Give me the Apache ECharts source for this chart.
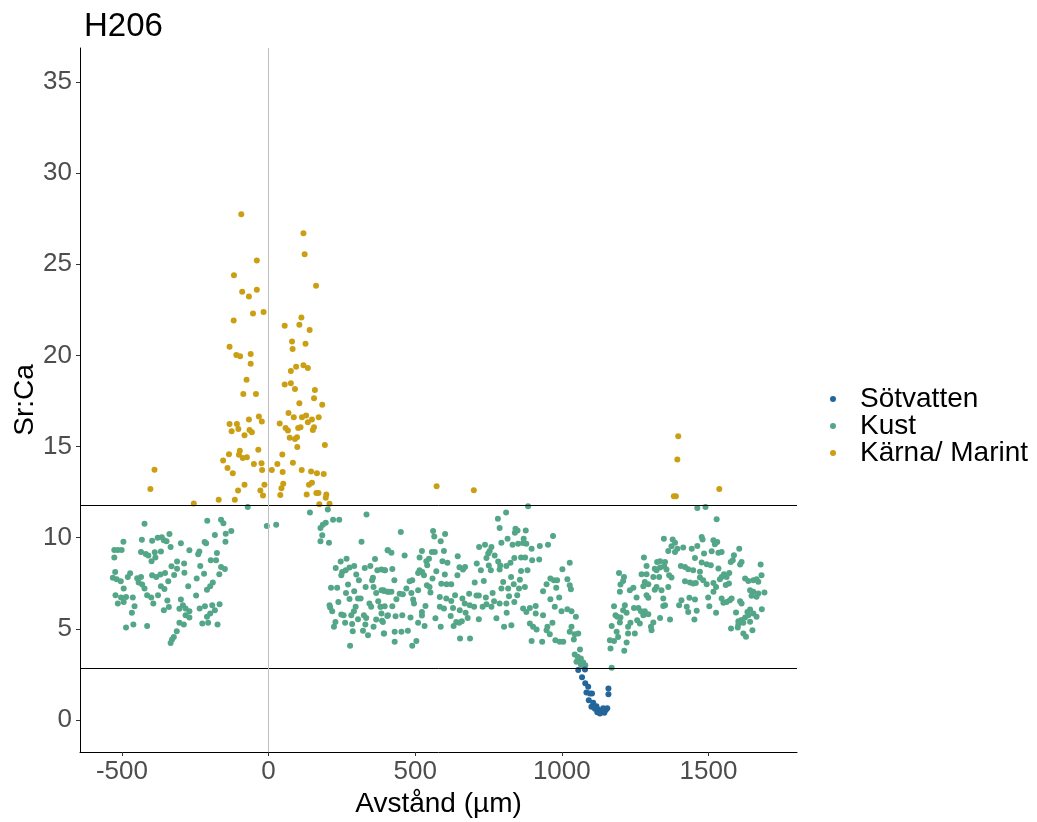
<!DOCTYPE html>
<html>
<head>
<meta charset="utf-8">
<title>H206</title>
<script src="https://cdn.jsdelivr.net/npm/echarts@6/dist/echarts.min.js"></script>
<style>
  html, body { margin: 0; padding: 0; background: #ffffff; }
  #chart { width: 1037px; height: 822px; }
</style>
</head>
<body>
<div id="chart"></div>
<script>
// Sr:Ca along the otolith transect, distance in µm, grouped by environment
const seriesNames = ['Sötvatten', 'Kust', 'Kärna/ Marint'];
const xTicks = [-500, 0, 500, 1000, 1500];
const yTicks = [0, 5, 10, 15, 20, 25, 30, 35];
const thresholds = [11.77, 2.85];

const sotvatten = [
  [1056,2.74],[1079,2.77],[1069,2.34],[1080,2.01],[1090,1.82],[1084,1.51],[1096,1.46],[1103,1.46],
  [1092,1.09],[1107,0.95],[1101,0.73],[1113,0.62],[1118,0.75],[1124,0.58],[1135,0.46],[1150,0.55],
  [1121,0.42],[1141,0.64],[1130,0.36],[1145,0.40],[1159,1.73],[1159,1.41],[1155,0.64]
];

const kust = [
  [-423,10.77],[-209,10.93],[-162,10.99],[-154,10.80],[-338,10.20],[-127,10.37],[-146,10.22],[-183,10.15],
  [-364,10.02],[-378,10.00],[-397,9.84],[-432,9.89],[-495,9.78],[-357,9.86],[-348,9.80],[-299,9.69],
  [-218,9.76],[-213,9.69],[-147,9.78],[-334,9.49],[-526,9.33],[-514,9.33],[-501,9.33],[-435,9.22],
  [-419,9.11],[-410,9.03],[-388,9.20],[-367,9.25],[-270,9.31],[-236,9.25],[-240,9.09],[-176,9.16],
  [-526,8.91],[-399,8.71],[-386,8.91],[-312,8.69],[-288,8.58],[-331,8.43],[-312,8.30],[-233,8.45],
  [-197,8.76],[-179,8.76],[-162,8.39],[-149,8.29],[-523,8.12],[-472,8.05],[-435,7.85],[-397,7.94],
  [-383,7.85],[-369,7.98],[-353,8.07],[-322,7.96],[-287,8.08],[-220,8.03],[-168,7.99],[-531,7.81],
  [-518,7.72],[-504,7.61],[-480,7.85],[-448,7.77],[-443,7.54],[-431,7.43],[-423,7.21],[-342,7.61],
  [-245,7.76],[-190,7.54],[-199,7.34],[-210,7.14],[-494,7.21],[-367,7.34],[-355,7.19],[-274,7.34],
  [-522,6.84],[-503,6.72],[-486,6.75],[-463,6.72],[-414,6.84],[-400,6.72],[-377,6.84],[-247,6.83],
  [-514,6.39],[-494,6.48],[-457,6.24],[-393,6.39],[-345,6.55],[-299,6.61],[-292,6.30],[-340,6.20],
  [-357,6.02],[-304,6.10],[-283,6.12],[-270,5.97],[-283,5.75],[-235,6.12],[-217,6.24],[-192,6.30],
  [-167,6.35],[-183,6.02],[-199,5.84],[-210,5.66],[-466,5.88],[-270,5.62],[-304,5.33],[-289,5.24],
  [-226,5.29],[-206,5.33],[-174,5.24],[-461,5.24],[-486,5.07],[-414,5.16],[-313,4.87],[-323,4.56],
  [-329,4.42],[-334,4.23],
  [-71,11.68],[-6,10.64],[26,10.71],[141,11.39],[202,11.55],[334,11.28],[220,10.99],[241,10.99],
  [195,10.82],[185,10.71],[177,10.53],[183,10.13],[177,9.80],[206,9.73],[317,9.78],[406,9.31],
  [246,8.69],[266,8.85],[229,8.34],[251,8.12],[248,7.94],[263,8.21],[276,8.36],[292,8.45],
  [328,8.34],[347,8.45],[363,8.83],[371,8.21],[397,8.21],[299,7.98],[308,7.67],[356,7.81],
  [353,7.67],[213,7.25],[234,7.25],[271,7.43],[292,7.06],[264,6.97],[331,7.30],[358,7.30],
  [367,6.97],[276,6.64],[305,6.66],[314,6.66],[392,7.12],[405,7.03],[238,6.48],[208,6.30],
  [210,6.17],[217,5.97],[297,6.21],[291,5.97],[344,6.39],[350,6.21],[374,6.52],[382,6.21],
  [248,5.79],[256,5.75],[282,5.75],[325,5.75],[333,5.60],[305,5.53],[228,5.38],[261,5.33],
  [285,5.26],[330,5.24],[367,5.51],[405,5.71],[387,5.44],[223,5.11],[322,4.89],[339,4.65],
  [358,5.11],[393,4.75],[287,4.87],[278,4.07],
  [885,11.73],[810,11.39],[782,11.04],[788,10.53],[842,10.49],[849,10.40],[877,10.40],[840,10.27],
  [451,10.31],[561,10.37],[565,10.07],[602,10.20],[587,9.80],[815,9.95],[794,9.73],[832,9.62],
  [851,9.67],[868,9.71],[879,9.67],[870,9.95],[738,9.62],[718,9.49],[760,9.49],[754,9.27],
  [407,9.31],[419,9.18],[464,9.03],[523,9.27],[557,9.22],[567,9.22],[598,9.27],[515,8.91],
  [547,8.85],[593,8.71],[610,8.63],[645,8.98],[749,9.13],[743,8.89],[771,9.03],[838,8.89],
  [861,8.91],[875,8.91],[825,8.63],[811,8.45],[790,8.47],[783,8.69],[710,8.58],[751,8.47],
  [758,8.21],[724,8.21],[788,8.25],[651,8.38],[670,8.39],[663,8.25],[538,8.71],[541,8.49],
  [385,8.25],[396,8.21],[422,8.29],[515,8.21],[524,8.12],[510,8.07],[530,7.94],[572,8.16],
  [601,7.98],[644,7.94],[559,7.76],[861,8.18],[883,8.21],[857,7.70],[827,7.85],[800,7.57],
  [734,7.63],[703,7.54],[429,7.67],[481,7.61],[490,7.67],[589,7.48],[607,7.45],[623,7.45],
  [540,7.39],[549,7.30],[470,7.21],[510,7.12],[385,7.12],[394,7.08],[410,7.03],[419,7.03],
  [447,6.93],[458,6.90],[487,6.97],[552,6.99],[584,6.75],[606,6.66],[623,6.53],[636,6.84],
  [661,6.66],[684,6.93],[709,6.83],[717,6.83],[741,6.72],[764,6.97],[794,7.21],[817,7.21],
  [836,7.45],[854,7.21],[874,7.30],[820,6.79],[848,6.84],[769,6.52],[788,6.39],[811,6.39],
  [838,6.48],[436,6.62],[493,6.61],[496,6.39],[422,6.24],[396,6.24],[382,6.21],[535,6.26],
  [584,6.21],[598,6.12],[629,6.15],[669,6.39],[686,6.30],[701,6.21],[730,6.21],[743,6.35],
  [760,6.21],[868,6.12],[879,5.93],[652,6.02],[672,5.89],[385,5.84],[407,5.75],[433,5.69],
  [456,5.75],[484,5.62],[523,5.93],[523,5.73],[569,5.58],[621,5.71],[679,5.60],[717,5.53],
  [777,5.58],[812,5.89],[640,5.38],[650,5.33],[659,5.42],[631,5.16],[510,5.33],[532,5.16],
  [587,5.11],[390,5.38],[803,5.11],[828,5.20],[430,4.84],[475,4.89],[453,4.84],[394,4.75],
  [430,4.29],[504,4.33],[490,4.07],[653,4.47],[687,4.47],
  [970,10.09],[897,9.40],[925,9.54],[953,9.62],[899,8.76],[923,8.80],[1027,8.63],[1002,8.27],
  [961,7.76],[973,7.67],[984,7.67],[948,7.45],[936,7.06],[981,7.26],[1019,7.72],[1027,7.39],
  [1031,7.17],[991,6.72],[961,6.62],[891,6.15],[911,6.26],[911,5.84],[976,6.21],[999,5.97],
  [1019,6.08],[1033,5.97],[1048,5.66],[936,5.75],[891,5.29],[902,5.11],[914,4.96],[951,5.11],
  [968,5.33],[948,4.93],[959,4.71],[978,4.38],[993,4.29],[1005,4.29],[1033,5.11],[1027,4.84],
  [1044,4.71],[1056,4.75],[1041,4.42],[897,4.34],[933,4.29],[1062,3.87],[1044,3.59],[1054,3.47],
  [1059,3.29],[1073,3.16],[1065,3.05],[1080,3.01],[1073,2.95],[1050,3.19],[1065,3.38],
  [1170,2.87],[1166,3.92],[1213,3.80],[1164,4.38],[1178,4.34],[1192,4.56],[1221,4.25],[1187,4.84],
  [1170,5.16],[1198,5.35],[1189,5.66],[1183,5.75],[1200,5.62],[1226,4.75],[1249,4.75],[1226,5.11],
  [1234,5.33],[1257,5.47],[1266,5.29],[1278,5.75],[1295,5.80],[1304,5.11],[1312,5.35],[1306,4.93],
  [1178,6.24],[1215,6.30],[1209,6.02],[1221,5.89],[1246,6.15],[1261,6.15],[1270,5.97],[1283,5.97],
  [1289,6.84],[1295,6.70],[1255,6.72],[1232,7.12],[1244,7.25],[1198,7.03],[1200,7.43],[1209,7.63],
  [1195,8.07],[1212,7.85],[1278,7.34],[1295,7.45],[1317,7.15],[1323,7.30],[1346,6.66],[1363,7.30],
  [1346,6.26],[1335,5.60],[1272,7.99],[1289,7.99],[1283,7.57],[1312,7.85],[1323,8.21],[1317,8.30],
  [1335,8.36],[1349,8.43],[1357,8.25],[1332,7.85],[1289,8.45],[1280,8.91],[1325,8.67],[1335,8.71],
  [1352,8.67],[1363,9.27],[1348,9.95],
  [1462,11.63],[1490,11.68],[1528,11.01],[1378,9.90],[1386,9.73],[1374,9.53],[1394,9.40],[1386,9.22],
  [1414,9.46],[1443,9.40],[1462,9.55],[1477,10.04],[1480,9.90],[1517,9.86],[1530,9.77],[1522,9.64],
  [1605,9.40],[1485,9.13],[1511,9.26],[1534,9.18],[1545,9.22],[1454,8.89],[1587,9.04],[1583,8.76],
  [1576,8.67],[1613,8.67],[1608,8.53],[1678,8.53],[1477,8.64],[1494,8.55],[1508,8.49],[1406,8.45],
  [1420,8.40],[1431,8.27],[1448,8.22],[1366,7.94],[1374,7.82],[1471,8.13],[1534,8.31],[1553,8.00],
  [1562,7.85],[1571,8.07],[1545,7.85],[1539,7.72],[1559,7.40],[1570,7.49],[1625,7.76],[1636,7.63],
  [1653,7.67],[1664,7.72],[1670,7.58],[1681,7.94],[1471,7.82],[1482,7.67],[1494,7.45],[1517,7.52],
  [1526,7.30],[1517,7.03],[1420,7.61],[1437,7.54],[1448,7.49],[1457,7.52],[1340,7.12],[1642,7.12],
  [1653,7.03],[1670,6.94],[1691,6.99],[1664,6.76],[1647,6.81],[1545,6.67],[1573,6.57],[1551,6.43],
  [1562,6.48],[1579,6.67],[1608,6.52],[1613,6.39],[1499,6.72],[1435,6.70],[1454,6.61],[1408,6.57],
  [1400,6.30],[1426,6.21],[1431,5.93],[1460,5.99],[1503,6.24],[1352,6.30],[1682,6.08],[1642,6.06],
  [1633,5.93],[1653,5.84],[1664,5.66],[1636,5.75],[1625,5.62],[1613,5.48],[1602,5.42],[1594,5.90],
  [1526,5.88],[1602,5.24],[1619,5.33],[1642,5.39],[1650,4.93],[1577,5.02],[1600,5.08],[1619,4.75],
  [1628,4.57],[1369,5.52],[1452,5.52]
];

const karna = [
  [-93,27.74],[119,26.70],[123,25.55],[-40,25.21],[-118,24.40],[162,23.82],[-90,23.49],[-40,23.60],
  [-67,23.23],[-53,22.30],[-17,22.38],[-119,21.92],[112,22.08],[105,21.68],[55,21.63],[140,21.39],
  [-133,20.48],[80,20.77],[82,20.35],[126,20.64],[-110,20.02],[-97,19.95],[-61,20.08],[-61,19.55],
  [76,19.15],[94,19.38],[119,19.46],[134,19.31],[-75,18.67],[55,18.41],[76,18.47],[90,18.16],
  [-86,17.89],[-43,17.89],[158,18.10],[155,17.65],[183,17.30],[105,17.38],[68,16.84],[86,16.61],
  [114,16.61],[128,16.70],[148,16.48],[171,16.61],[134,16.33],[155,16.06],[151,15.91],[38,16.26],
  [58,16.02],[66,15.88],[101,16.02],[109,16.06],[97,15.51],[72,15.49],[90,15.42],[-133,16.24],
  [-108,16.24],[-126,15.84],[-103,15.97],[-67,16.48],[-33,16.65],[-23,16.37],[-65,15.91],[-57,15.79],
  [-82,15.62],[98,14.98],[192,15.09],[-35,14.82],[-135,14.58],[-98,14.77],[-101,14.55],[-88,14.37],
  [-74,14.42],[-155,14.24],[-140,13.83],[-122,13.54],[-50,14.05],[-24,14.09],[-22,13.72],[11,13.71],
  [30,14.05],[47,14.56],[48,13.60],[83,14.11],[113,13.72],[145,13.63],[165,13.54],[188,13.49],
  [-82,12.90],[-104,12.59],[-14,12.90],[-28,12.59],[-19,12.32],[50,12.96],[44,12.72],[40,12.34],
  [138,12.90],[148,13.01],[130,12.37],[163,12.45],[170,12.45],[197,12.37],[195,12.19],[173,11.83],
  [208,11.86],[-170,12.08],[-115,12.08],[-403,12.67],[-389,13.73],[-255,11.88],
  [573,12.83],[700,12.61],[1397,15.57],[1394,14.29],[1382,12.27],[1389,12.27],[1537,12.67]
];

const colors = ['#24669a', '#54a688', '#cb9f14'];
const FONT = '"Liberation Sans", Arial, sans-serif';

const chart = echarts.init(document.getElementById('chart'), null, { renderer: 'canvas' });

const refLines = {
  silent: true,
  symbol: 'none',
  label: { show: false },
  data: [
    { yAxis: thresholds[0], lineStyle: { color: '#000000', width: 1, type: 'solid' } },
    { yAxis: thresholds[1], lineStyle: { color: '#000000', width: 1, type: 'solid' } },
    { xAxis: 0, lineStyle: { color: '#bebebe', width: 1, type: 'solid' } }
  ]
};

function pointSeries(name, data, color, extra) {
  return Object.assign({
    name: name,
    type: 'scatter',
    data: data,
    symbol: 'circle',
    symbolSize: 6,
    itemStyle: { color: color, opacity: 1 },
    emphasis: { disabled: true },
    animation: false
  }, extra || {});
}

const plainNumber = v => String(v);

chart.setOption({
  backgroundColor: '#ffffff',
  animation: false,
  textStyle: { fontFamily: FONT },
  title: {
    text: 'H206',
    left: 79,
    top: 5,
    textStyle: { fontFamily: FONT, fontSize: 33, fontWeight: 'normal', color: '#000000' }
  },
  grid: { left: 80, right: 240, top: 48, bottom: 70, containLabel: false, outerBoundsMode: 'none' },
  legend: {
    data: seriesNames,
    orient: 'vertical',
    left: 825,
    top: 380,
    icon: 'circle',
    itemWidth: 44,
    itemHeight: 6,
    itemGap: -1,
    textStyle: { fontFamily: FONT, fontSize: 28, color: '#000000', padding: [0, 0, 0, 0] },
    selectedMode: false
  },
  xAxis: {
    type: 'value',
    min: -643,
    max: 1802,
    name: 'Avstånd (µm)',
    nameLocation: 'middle',
    nameGap: 38,
    nameTextStyle: { fontFamily: FONT, fontSize: 28, color: '#000000' },
    axisLine: { show: true, onZero: false, lineStyle: { color: '#000000', width: 1 } },
    axisTick: { show: true, length: 4, customValues: xTicks, lineStyle: { color: '#333333' } },
    axisLabel: { customValues: xTicks, formatter: plainNumber, fontSize: 26, color: '#4d4d4d', margin: 7, fontFamily: FONT },
    splitLine: { show: false }
  },
  yAxis: {
    type: 'value',
    min: -1.755,
    max: 36.865,
    name: 'Sr:Ca',
    nameLocation: 'middle',
    nameGap: 41,
    nameMoveOverlap: false,
    nameRotate: 90,
    nameTextStyle: { fontFamily: FONT, fontSize: 28, color: '#000000' },
    axisLine: { show: true, onZero: false, lineStyle: { color: '#000000', width: 1 } },
    axisTick: { show: true, length: 4, customValues: yTicks, lineStyle: { color: '#333333' } },
    axisLabel: { customValues: yTicks, formatter: plainNumber, fontSize: 26, color: '#4d4d4d', margin: 8, fontFamily: FONT },
    splitLine: { show: false }
  },
  series: [
    pointSeries(seriesNames[1], kust, colors[1], { markLine: refLines, z: 2 }),
    pointSeries(seriesNames[0], sotvatten, colors[0], { z: 3 }),
    pointSeries(seriesNames[2], karna, colors[2], { z: 3 })
  ]
});
</script>
</body>
</html>
